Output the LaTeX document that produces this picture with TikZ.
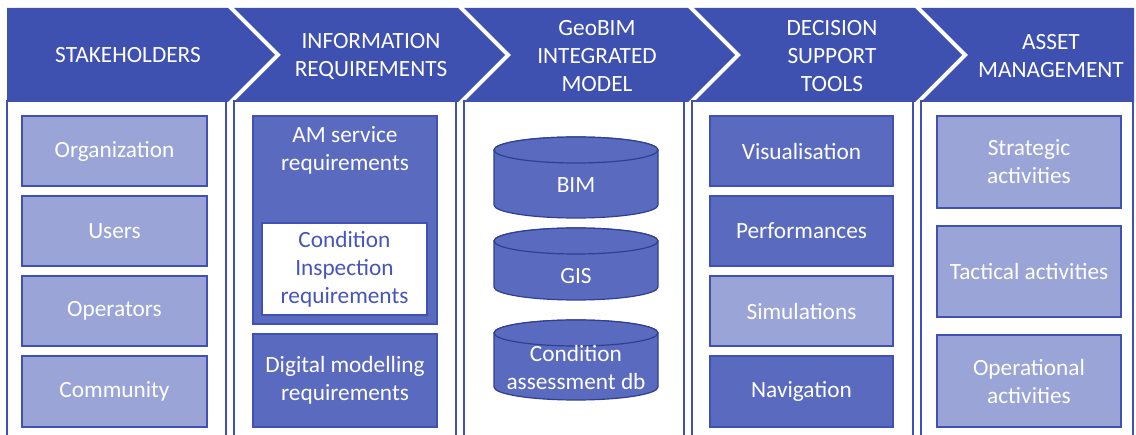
\documentclass[tikz,border=0pt]{standalone}
\usepackage{fontspec}
\setmainfont{Carlito}
\begin{document}
\begin{tikzpicture}[x=1pt,y=-1pt,
  every node/.style={font=\fontsize{23.3}{28}\selectfont, align=center, inner sep=0pt},
  header/.style={fill=hdrblue, draw=none},
  panel/.style={fill=white, draw=edgeblue, line width=2pt},
  darkbox/.style={fill=darkfill, draw=edgeblue, line width=1.3pt, text=white},
  lightbox/.style={fill=lightfill, draw=edgeblue, line width=1.3pt, text=white},
  whitebox/.style={fill=white, draw=edgeblue, line width=1.3pt, text=textblue},
  dbshape/.style={fill=darkfill, draw=dbedge, line width=1.2pt},
  htext/.style={text=white},
  boxtext/.style={text=white}
]
\definecolor{hdrblue}{HTML}{3E50B0}
\definecolor{edgeblue}{HTML}{3F51B5}
\definecolor{darkfill}{HTML}{5A6ABF}
\definecolor{lightfill}{HTML}{9AA4D7}
\definecolor{textblue}{HTML}{4656B8}
\definecolor{dbedge}{HTML}{2F3F92}

\useasboundingbox (0,0) rectangle (1136,435);
\clip (0,0) rectangle (1136,435);

% column panels
\draw[panel] (7,101) rectangle (226,445);
\draw[panel] (234,101) rectangle (456,445);
\draw[panel] (464,101) rectangle (684,445);
\draw[panel] (692,101) rectangle (913,445);
\draw[panel] (921,101) rectangle (1133,445);

% chevron header band
\fill[header] (7,8) -- (228,8) -- (275,55) -- (228,102) -- (7,102) -- cycle;
\fill[header] (234,8) -- (458,8) -- (505,55) -- (458,102) -- (234,102) -- (281,55) -- cycle;
\fill[header] (464,8) -- (688,8) -- (735,55) -- (688,102) -- (464,102) -- (511,55) -- cycle;
\fill[header] (694,8) -- (915,8) -- (962,55) -- (915,102) -- (694,102) -- (741,55) -- cycle;
\fill[header] (921,8) -- (1134,8) -- (1134,102) -- (921,102) -- (968,55) -- cycle;

\node[htext] (h1) at (128,55) {STAKEHOLDERS};
\node[htext] (h2) at (371,56) {INFORMATION\\REQUIREMENTS};
\node[htext] (h3) at (597,56) {GeoBIM\\INTEGRATED\\MODEL};
\node[htext] (h4) at (832,56) {DECISION\\SUPPORT\\TOOLS};
\node[htext] (h5) at (1051,56) {ASSET\\MANAGEMENT};

% stakeholders
\node[lightbox, minimum width=185pt, minimum height=70pt] (org) at (114.5,151) {Organization};
\node[lightbox, minimum width=185pt, minimum height=70pt] (users) at (114.5,231) {Users};
\node[lightbox, minimum width=185pt, minimum height=70pt] (oper) at (114.5,311) {Operators};
\node[lightbox, minimum width=185pt, minimum height=71pt] (comm) at (114.5,391.5) {Community};

% information requirements
\node[darkbox, minimum width=184pt, minimum height=208pt] (amreq) at (345,220) {};
\node[boxtext] (amtxt) at (345,150) {AM service\\requirements};
\node[whitebox, minimum width=165pt, minimum height=92pt] (cireq) at (344.5,269) {Condition\\Inspection\\requirements};
\node[darkbox, minimum width=184pt, minimum height=93pt] (dmreq) at (345,380.5) {Digital modelling\\requirements};

% GeoBIM integrated model: databases
\foreach \nm/\top/\bot/\ty/\lbl in {bim/137/218/185/BIM, gis/228/300/276/GIS, cadb/320/400/367/{Condition\\assessment db}} {
  \draw[dbshape] (494,\top+13) -- (494,\bot-13)
    arc[start angle=180, end angle=0, x radius=82, y radius=13]
    -- (658,\top+13)
    arc[start angle=0, end angle=-180, x radius=82, y radius=13] -- cycle;
  \draw[dbshape] (576,\top+13) ellipse[x radius=82, y radius=13];
  \node[boxtext] (\nm) at (576,\ty) {\lbl};
}

% decision support tools
\node[darkbox, minimum width=183pt, minimum height=70pt] (vis) at (801.5,151) {Visualisation};
\node[darkbox, minimum width=183pt, minimum height=70pt] (perf) at (801.5,231) {Performances};
\node[lightbox, minimum width=183pt, minimum height=70pt] (sim) at (801.5,311) {Simulations};
\node[darkbox, minimum width=183pt, minimum height=71pt] (nav) at (801.5,391.5) {Navigation};

% asset management
\node[lightbox, minimum width=184pt, minimum height=92pt] (strat) at (1029,162) {Strategic\\activities};
\node[lightbox, minimum width=184pt, minimum height=91pt] (tact) at (1029,271.5) {Tactical activities};
\node[lightbox, minimum width=184pt, minimum height=92pt] (opact) at (1029,381) {Operational\\activities};
\end{tikzpicture}
\end{document}
